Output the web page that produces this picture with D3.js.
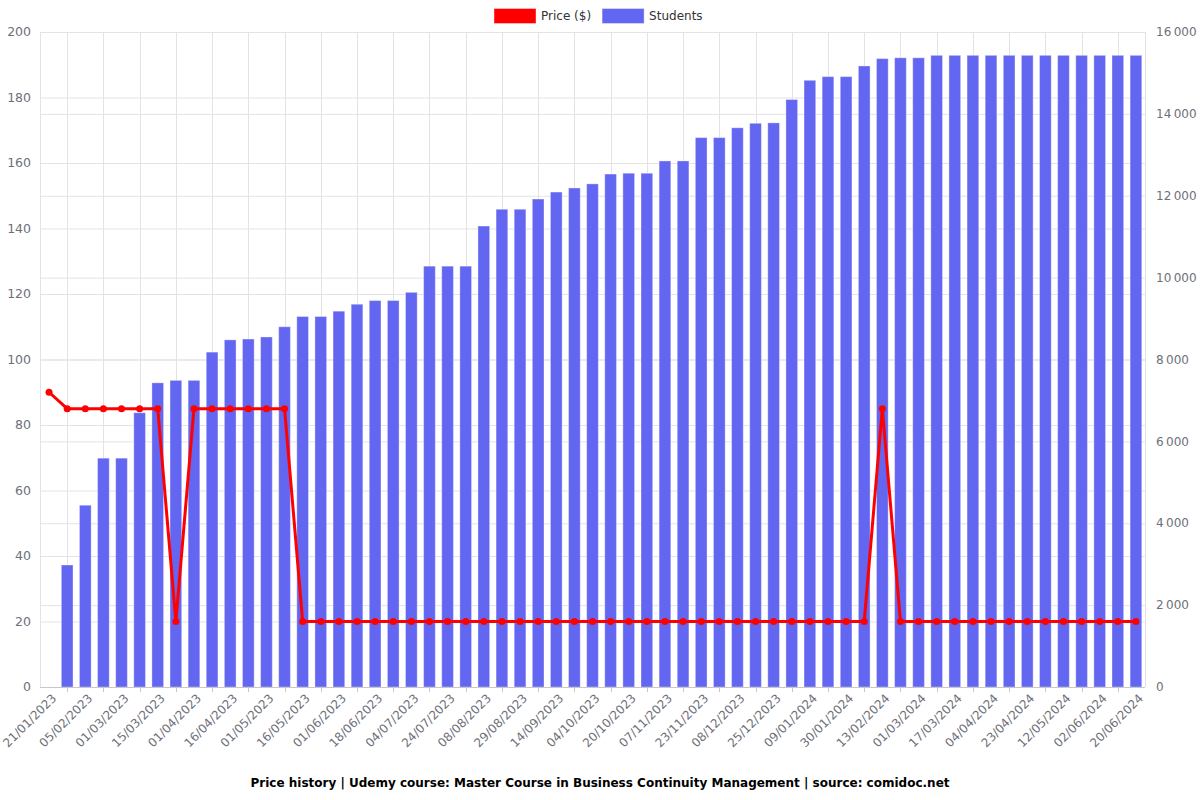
<!DOCTYPE html>
<html>
<head>
<meta charset="utf-8">
<script src="https://cdn.jsdelivr.net/npm/d3@7"></script>
<style>
  html, body { margin: 0; padding: 0; background: #fff; }
  svg { display: block; font-family: "DejaVu Sans", sans-serif; }
</style>
</head>
<body>
<svg id="chart" width="1200" height="800"></svg>
<script>
// Visible x-axis labels (every second category)
const dateLabels = ["21/01/2023","05/02/2023","01/03/2023","15/03/2023","01/04/2023","16/04/2023","01/05/2023","16/05/2023","01/06/2023","18/06/2023","04/07/2023","24/07/2023","08/08/2023","29/08/2023","14/09/2023","04/10/2023","20/10/2023","07/11/2023","23/11/2023","08/12/2023","25/12/2023","09/01/2024","30/01/2024","13/02/2024","01/03/2024","17/03/2024","04/04/2024","23/04/2024","12/05/2024","02/06/2024","20/06/2024"];

const priceValues = [90,85,85,85,85,85,85,20,85,85,85,85,85,85,
  20,20,20,20,20,20,20,20,20,20,20,20,20,20,20,20,20,20,20,20,20,20,20,20,20,20,20,20,20,20,20,20,
  85,
  20,20,20,20,20,20,20,20,20,20,20,20,20,20];

const studentValues = [null,2980,4440,5590,5590,6700,7430,7490,7490,8180,8480,8500,8550,8800,9050,9050,9180,9350,9440,9440,9640,10280,10280,10280,11260,11670,11670,11920,12090,12190,12290,12530,12550,12550,12850,12850,13420,13420,13660,13770,13780,14350,14820,14910,14910,15170,15350,15370,15370,15430,15430,15430,15430,15430,15430,15430,15430,15430,15430,15430,15430];

const leftTicks = [0,20,40,60,80,100,120,140,160,180,200];
const rightTicks = [0,2000,4000,6000,8000,10000,12000,14000,16000];
const titleText = "Price history | Udemy course: Master Course in Business Continuity Management | source: comidoc.net";
const legendItems = [{name: "Price ($)", color: "#ff0000"}, {name: "Students", color: "#6366f1"}];

const margin = {left: 40, right: 1145, top: 32, bottom: 687};
const svg = d3.select("#chart");

const idx = d3.range(priceValues.length);
const x = d3.scaleBand().domain(idx).range([margin.left, margin.right]).padding(0);
const cx = i => x(i) + x.bandwidth() / 2;
const yL = d3.scaleLinear().domain([0, 200]).range([margin.bottom, margin.top]);
const yR = d3.scaleLinear().domain([0, 16000]).range([margin.bottom, margin.top]);

const grid = svg.append("g");
grid.selectAll("line.gl").data(leftTicks).join("line")
  .attr("x1", margin.left).attr("x2", margin.right)
  .attr("y1", d => yL(d) + 0.5).attr("y2", d => yL(d) + 0.5)
  .attr("stroke", "#e3e3e3").attr("stroke-width", 1);
grid.selectAll("line.gr").data(rightTicks).join("line")
  .attr("x1", margin.left).attr("x2", margin.right)
  .attr("y1", d => yR(d) + 0.5).attr("y2", d => yR(d) + 0.5)
  .attr("stroke", "#e3e3e3").attr("stroke-width", 1);
const vIdx = idx.filter(i => i % 2 === 1);
grid.selectAll("line.gv").data(vIdx).join("line")
  .attr("x1", d => Math.round(cx(d)) + 0.5).attr("x2", d => Math.round(cx(d)) + 0.5)
  .attr("y1", margin.top).attr("y2", margin.bottom)
  .attr("stroke", "#e3e3e3").attr("stroke-width", 1);
[margin.left, margin.right].forEach(xx => {
  grid.append("line").attr("x1", xx + 0.5).attr("x2", xx + 0.5)
    .attr("y1", margin.top).attr("y2", margin.bottom)
    .attr("stroke", "#e3e3e3");
});

// bars
const bw = x.bandwidth() * 0.645;
svg.append("g").selectAll("rect").data(idx.filter(i => studentValues[i] != null)).join("rect")
  .attr("x", i => cx(i) - bw / 2)
  .attr("y", i => yR(studentValues[i]))
  .attr("width", bw)
  .attr("height", i => margin.bottom - yR(studentValues[i]))
  .attr("fill", "#6366f1")
  .attr("stroke", "rgba(255,255,255,0.35)")
  .attr("stroke-width", 1);

// x axis line and ticks
svg.append("line").attr("x1", margin.left).attr("x2", margin.right)
  .attr("y1", margin.bottom + 0.5).attr("y2", margin.bottom + 0.5)
  .attr("stroke", "#c8c8c8");
svg.append("g").selectAll("line").data(vIdx).join("line")
  .attr("x1", d => Math.round(cx(d)) + 0.5).attr("x2", d => Math.round(cx(d)) + 0.5)
  .attr("y1", margin.bottom).attr("y2", margin.bottom + 5)
  .attr("stroke", "#c8c8c8");

// x labels
svg.append("g").selectAll("text").data(dateLabels).join("text")
  .attr("transform", (d, k) => `translate(${cx(k * 2) + 5},${margin.bottom + 9}) rotate(-45)`)
  .attr("text-anchor", "end")
  .attr("dy", "0.35em")
  .attr("font-size", 12)
  .attr("fill", "#6e7079")
  .text(d => d);

// left y labels
svg.append("g").selectAll("text").data(leftTicks).join("text")
  .attr("x", margin.left - 9).attr("y", d => yL(d)).attr("dy", "0.35em")
  .attr("text-anchor", "end").attr("font-size", 12.5).attr("fill", "#6e7079")
  .text(d => d);

// right y labels
const fmt = v => d3.format(",")(v).replace(/,/g, "\u2009");
svg.append("g").selectAll("text").data(rightTicks).join("text")
  .attr("x", margin.right + 11).attr("y", d => yR(d)).attr("dy", "0.35em")
  .attr("text-anchor", "start").attr("font-size", 12).attr("fill", "#6e7079")
  .text(d => fmt(d));

// price line
const line = d3.line().x(i => cx(i)).y(i => yL(priceValues[i]));
svg.append("path").datum(idx).attr("d", line)
  .attr("fill", "none").attr("stroke", "#ff0000").attr("stroke-width", 3)
  .attr("stroke-linejoin", "round");
svg.append("g").selectAll("circle").data(idx).join("circle")
  .attr("cx", i => cx(i)).attr("cy", i => yL(priceValues[i])).attr("r", 3.5)
  .attr("fill", "#ff0000");

// legend
const lg = svg.append("g");
let lx = 494;
legendItems.forEach(it => {
  lg.append("rect").attr("x", lx).attr("y", 8.5).attr("width", 42).attr("height", 15)
    .attr("fill", it.color).attr("stroke", "rgba(255,255,255,0.4)");
  const t = lg.append("text").attr("x", lx + 47).attr("y", 16).attr("dy", "0.35em")
    .attr("font-size", 12).attr("fill", "#333").text(it.name);
  lx += 47 + t.node().getComputedTextLength() + 11;
});

// title
svg.append("text").attr("x", 600).attr("y", 787).attr("text-anchor", "middle")
  .attr("font-size", 12).attr("font-weight", "bold").attr("fill", "#000")
  .text(titleText);
</script>
</body>
</html>
